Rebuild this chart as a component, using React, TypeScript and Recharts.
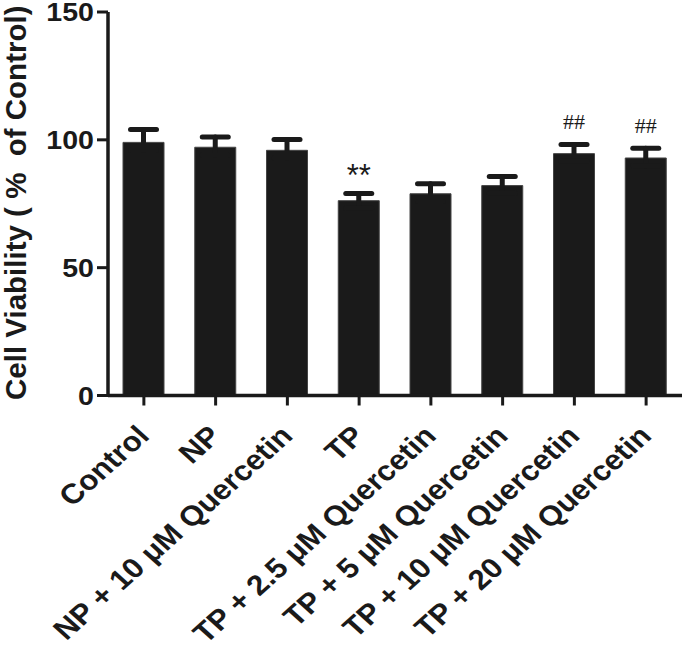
import React from 'react';
import { BarChart, Bar, XAxis, YAxis, ErrorBar, LabelList } from 'recharts';

const categories = [
  'Control',
  'NP',
  'NP + 10 μM Quercetin',
  'TP',
  'TP + 2.5 μM Quercetin',
  'TP + 5 μM Quercetin',
  'TP + 10 μM Quercetin',
  'TP + 20 μM Quercetin',
];
const viability = [99.0, 97.1, 95.9, 76.2, 78.9, 82.1, 94.6, 92.9];
const sem = [5.0, 4.0, 4.2, 2.8, 3.9, 3.6, 3.6, 3.8];
const marks = ['', '', '', '**', '', '', '##', '##'];
const yTicks = [0, 50, 100, 150];

// lower end of the error bar is tucked inside the bar so only the upper half shows
const data = categories.map((name, i) => ({
  name,
  value: viability[i],
  err: [3, sem[i]],
  mark: marks[i],
}));

const FONT = '"Liberation Sans", Arial, Helvetica, sans-serif';
const INK = '#1a1a1a';
const STRETCH = 1.12; // the original figure is slightly wider than tall

const XTick = (props: any) => {
  const { x, y, payload } = props;
  const tx = x + 7;
  const ty = y + 30;
  return (
    <text
      x={0}
      y={0}
      textAnchor="end"
      transform={`translate(${tx} ${ty}) scale(${STRETCH} 1) rotate(-45)`}
      fontFamily={FONT}
      fontWeight="bold"
      fontSize={28}
      fill={INK}
    >
      {payload.value}
    </text>
  );
};

const YTick = (props: any) => {
  const { x, y, payload } = props;
  return (
    <text
      x={0}
      y={0}
      dy="0.36em"
      textAnchor="end"
      transform={`translate(${x} ${y}) scale(${STRETCH} 1)`}
      fontFamily={FONT}
      fontWeight="bold"
      fontSize={25.5}
      fill={INK}
    >
      {payload.value}
    </text>
  );
};

const MarkLabel = (props: any) => {
  const { x, y, width, height, value, index } = props;
  if (!value) return null;
  const perUnit = height / viability[index];
  const capY = y - sem[index] * perUnit;
  const isHash = value.startsWith('#');
  return (
    <text
      x={x + width / 2}
      y={isHash ? capY - 15 : capY - 8}
      textAnchor="middle"
      fontFamily={isHash ? '"Liberation Serif", "Times New Roman", serif' : FONT}
      fontSize={isHash ? 22 : 31}
      fill={INK}
    >
      {value}
    </text>
  );
};

export default function App() {
  return (
    <div style={{ position: 'absolute', left: 0, top: 0, background: '#fff' }}>
      <BarChart
        width={685}
        height={646}
        data={data}
        margin={{ top: 12, right: 3, left: 0, bottom: 0 }}
      >
        <XAxis
          dataKey="name"
          interval={0}
          height={250.5}
          tickSize={10}
          tickLine={{ stroke: INK, strokeWidth: 3 }}
          axisLine={{ stroke: INK, strokeWidth: 3.5 }}
          tick={<XTick />}
        />
        <YAxis
          width={108}
          domain={[0, 150]}
          ticks={yTicks}
          tickSize={11}
          tickMargin={3}
          tickLine={{ stroke: INK, strokeWidth: 3 }}
          axisLine={{ stroke: INK, strokeWidth: 3.5 }}
          tick={<YTick />}
          label={{
            content: (p: any) => {
              const vb = p.viewBox;
              const cy = vb.y + vb.height / 2 - 1;
              return (
                <text
                  x={26}
                  y={cy}
                  textAnchor="middle"
                  transform={`rotate(-90 26 ${cy})`}
                  fontFamily={FONT}
                  fontWeight="bold"
                  fontSize={29.5}
                  fill={INK}
                  xmlSpace="preserve"
                  style={{ whiteSpace: 'pre' }}
                >
                  {'Cell Viability ( %  of Control)'}
                </text>
              );
            },
          }}
        />
        <Bar dataKey="value" barSize={41} fill={INK} stroke="#444" strokeWidth={1} isAnimationActive={false}>
          <ErrorBar
            dataKey="err"
            width={13}
            stroke={INK}
            strokeWidth={5}
            strokeLinecap="round"
            direction="y"
          />
          <LabelList dataKey="mark" content={<MarkLabel />} />
        </Bar>
      </BarChart>
    </div>
  );
}
